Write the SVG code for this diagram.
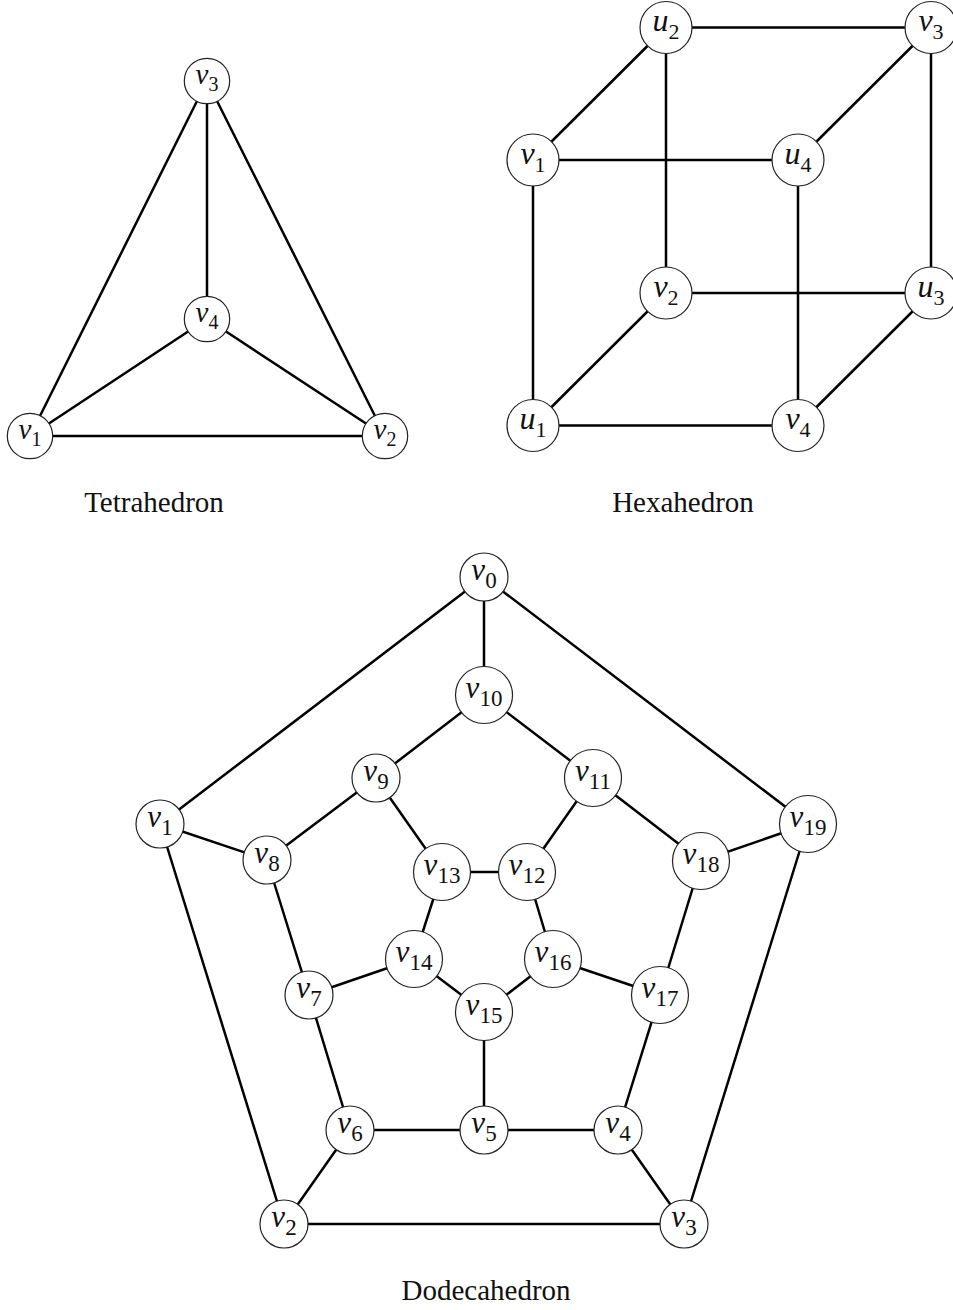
<svg xmlns="http://www.w3.org/2000/svg" width="953" height="1310" viewBox="0 0 953 1310">
<style>
  .e { stroke:#000; stroke-width:2.5; stroke-linecap:round; fill:none; }
  .n circle { fill:#fff; stroke:#222; stroke-width:1.2; }
  .n text { font-family:"Liberation Serif", "Times New Roman", serif; text-anchor:middle; fill:#111; }
  .t text { font-size:29px; }
  .t .s { font-size:20px; }
  .h text { font-size:32px; }
  .h .s { font-size:22px; }
  .d text { font-size:31px; }
  .d .s { font-size:23px; }
  .i { font-style:italic; }
  .cap { font-family:"Liberation Serif", "Times New Roman", serif; font-size:29px; text-anchor:middle; fill:#111; }
</style>
<rect width="953" height="1310" fill="#fff"/>

<!-- Tetrahedron -->
<g id="tetra-edges">
  <line class="e" x1="207" y1="81" x2="30" y2="436"/>
  <line class="e" x1="207" y1="81" x2="385" y2="436"/>
  <line class="e" x1="207" y1="81" x2="207" y2="319"/>
  <line class="e" x1="207" y1="319" x2="30" y2="436"/>
  <line class="e" x1="207" y1="319" x2="385" y2="436"/>
  <line class="e" x1="30" y1="436" x2="385" y2="436"/>
</g>
<g id="t-v3" class="n t"><circle cx="207" cy="81" r="22.7"/><text x="207" y="84"><tspan class="i">v</tspan><tspan class="s" dy="7">3</tspan></text></g>
<g id="t-v4" class="n t"><circle cx="207" cy="319" r="22.7"/><text x="207" y="322"><tspan class="i">v</tspan><tspan class="s" dy="7">4</tspan></text></g>
<g id="t-v1" class="n t"><circle cx="30" cy="436" r="22.7"/><text x="30" y="439"><tspan class="i">v</tspan><tspan class="s" dy="7">1</tspan></text></g>
<g id="t-v2" class="n t"><circle cx="385" cy="436" r="22.7"/><text x="385" y="439"><tspan class="i">v</tspan><tspan class="s" dy="7">2</tspan></text></g>
<text class="cap" x="154" y="512">Tetrahedron</text>

<!-- Hexahedron -->
<g id="hexa-edges">
  <line class="e" x1="666" y1="27.5" x2="931" y2="27.5"/>
  <line class="e" x1="666" y1="27.5" x2="533" y2="160"/>
  <line class="e" x1="666" y1="27.5" x2="666" y2="293"/>
  <line class="e" x1="931" y1="27.5" x2="798" y2="160"/>
  <line class="e" x1="931" y1="27.5" x2="931" y2="293"/>
  <line class="e" x1="533" y1="160" x2="798" y2="160"/>
  <line class="e" x1="533" y1="160" x2="533" y2="425.5"/>
  <line class="e" x1="798" y1="160" x2="798" y2="425.5"/>
  <line class="e" x1="666" y1="293" x2="931" y2="293"/>
  <line class="e" x1="666" y1="293" x2="533" y2="425.5"/>
  <line class="e" x1="931" y1="293" x2="798" y2="425.5"/>
  <line class="e" x1="533" y1="425.5" x2="798" y2="425.5"/>
</g>
<g id="h-u2" class="n h"><circle cx="666" cy="27.5" r="26"/><text x="666" y="31"><tspan class="i">u</tspan><tspan class="s" dy="8">2</tspan></text></g>
<g id="h-v3" class="n h"><circle cx="931" cy="27.5" r="26"/><text x="931" y="31"><tspan class="i">v</tspan><tspan class="s" dy="8">3</tspan></text></g>
<g id="h-v1" class="n h"><circle cx="533" cy="160" r="26"/><text x="533" y="163.5"><tspan class="i">v</tspan><tspan class="s" dy="8">1</tspan></text></g>
<g id="h-u4" class="n h"><circle cx="798" cy="160" r="26"/><text x="798" y="163.5"><tspan class="i">u</tspan><tspan class="s" dy="8">4</tspan></text></g>
<g id="h-v2" class="n h"><circle cx="666" cy="293" r="26"/><text x="666" y="296.5"><tspan class="i">v</tspan><tspan class="s" dy="8">2</tspan></text></g>
<g id="h-u3" class="n h"><circle cx="931" cy="293" r="26"/><text x="931" y="296.5"><tspan class="i">u</tspan><tspan class="s" dy="8">3</tspan></text></g>
<g id="h-u1" class="n h"><circle cx="533" cy="425.5" r="26"/><text x="533" y="429"><tspan class="i">u</tspan><tspan class="s" dy="8">1</tspan></text></g>
<g id="h-v4" class="n h"><circle cx="798" cy="425.5" r="26"/><text x="798" y="429"><tspan class="i">v</tspan><tspan class="s" dy="8">4</tspan></text></g>
<text class="cap" x="683" y="512">Hexahedron</text>

<!-- Dodecahedron -->
<g id="dodeca-edges">
  <line class="e" x1="484" y1="577" x2="160" y2="824"/>
  <line class="e" x1="484" y1="577" x2="484" y2="695"/>
  <line class="e" x1="484" y1="577" x2="808" y2="824"/>
  <line class="e" x1="160" y1="824" x2="267" y2="860"/>
  <line class="e" x1="160" y1="824" x2="284" y2="1224"/>
  <line class="e" x1="808" y1="824" x2="701" y2="861"/>
  <line class="e" x1="808" y1="824" x2="684" y2="1224"/>
  <line class="e" x1="484" y1="695" x2="376" y2="778"/>
  <line class="e" x1="484" y1="695" x2="593" y2="778"/>
  <line class="e" x1="376" y1="778" x2="267" y2="860"/>
  <line class="e" x1="376" y1="778" x2="442" y2="872"/>
  <line class="e" x1="593" y1="778" x2="527" y2="872"/>
  <line class="e" x1="593" y1="778" x2="701" y2="861"/>
  <line class="e" x1="442" y1="872" x2="527" y2="872"/>
  <line class="e" x1="442" y1="872" x2="414" y2="959"/>
  <line class="e" x1="527" y1="872" x2="553" y2="959"/>
  <line class="e" x1="267" y1="860" x2="309" y2="995"/>
  <line class="e" x1="701" y1="861" x2="660" y2="995"/>
  <line class="e" x1="414" y1="959" x2="309" y2="995"/>
  <line class="e" x1="414" y1="959" x2="484" y2="1012"/>
  <line class="e" x1="553" y1="959" x2="484" y2="1012"/>
  <line class="e" x1="553" y1="959" x2="660" y2="995"/>
  <line class="e" x1="484" y1="1012" x2="484" y2="1130"/>
  <line class="e" x1="309" y1="995" x2="350" y2="1130"/>
  <line class="e" x1="660" y1="995" x2="618" y2="1130"/>
  <line class="e" x1="350" y1="1130" x2="484" y2="1130"/>
  <line class="e" x1="350" y1="1130" x2="284" y2="1224"/>
  <line class="e" x1="484" y1="1130" x2="618" y2="1130"/>
  <line class="e" x1="618" y1="1130" x2="684" y2="1224"/>
  <line class="e" x1="284" y1="1224" x2="684" y2="1224"/>
</g>
<g id="d-v0" class="n d"><circle cx="484" cy="577" r="24"/><text x="484" y="580"><tspan class="i">v</tspan><tspan class="s" dy="7.5">0</tspan></text></g>
<g id="d-v10" class="n d"><circle cx="484" cy="695" r="28.5"/><text x="484" y="698"><tspan class="i">v</tspan><tspan class="s" dy="7.5">10</tspan></text></g>
<g id="d-v9" class="n d"><circle cx="376" cy="778" r="24"/><text x="376" y="781"><tspan class="i">v</tspan><tspan class="s" dy="7.5">9</tspan></text></g>
<g id="d-v11" class="n d"><circle cx="593" cy="778" r="28.5"/><text x="593" y="781"><tspan class="i">v</tspan><tspan class="s" dy="7.5">11</tspan></text></g>
<g id="d-v1" class="n d"><circle cx="160" cy="824" r="24"/><text x="160" y="827"><tspan class="i">v</tspan><tspan class="s" dy="7.5">1</tspan></text></g>
<g id="d-v19" class="n d"><circle cx="808" cy="824" r="28.5"/><text x="808" y="827"><tspan class="i">v</tspan><tspan class="s" dy="7.5">19</tspan></text></g>
<g id="d-v8" class="n d"><circle cx="267" cy="860" r="24"/><text x="267" y="863"><tspan class="i">v</tspan><tspan class="s" dy="7.5">8</tspan></text></g>
<g id="d-v18" class="n d"><circle cx="701" cy="861" r="28.5"/><text x="701" y="864"><tspan class="i">v</tspan><tspan class="s" dy="7.5">18</tspan></text></g>
<g id="d-v13" class="n d"><circle cx="442" cy="872" r="28.5"/><text x="442" y="875"><tspan class="i">v</tspan><tspan class="s" dy="7.5">13</tspan></text></g>
<g id="d-v12" class="n d"><circle cx="527" cy="872" r="28.5"/><text x="527" y="875"><tspan class="i">v</tspan><tspan class="s" dy="7.5">12</tspan></text></g>
<g id="d-v14" class="n d"><circle cx="414" cy="959" r="28.5"/><text x="414" y="962"><tspan class="i">v</tspan><tspan class="s" dy="7.5">14</tspan></text></g>
<g id="d-v16" class="n d"><circle cx="553" cy="959" r="28.5"/><text x="553" y="962"><tspan class="i">v</tspan><tspan class="s" dy="7.5">16</tspan></text></g>
<g id="d-v7" class="n d"><circle cx="309" cy="995" r="24"/><text x="309" y="998"><tspan class="i">v</tspan><tspan class="s" dy="7.5">7</tspan></text></g>
<g id="d-v17" class="n d"><circle cx="660" cy="995" r="28.5"/><text x="660" y="998"><tspan class="i">v</tspan><tspan class="s" dy="7.5">17</tspan></text></g>
<g id="d-v15" class="n d"><circle cx="484" cy="1012" r="28.5"/><text x="484" y="1015"><tspan class="i">v</tspan><tspan class="s" dy="7.5">15</tspan></text></g>
<g id="d-v6" class="n d"><circle cx="350" cy="1130" r="24"/><text x="350" y="1133"><tspan class="i">v</tspan><tspan class="s" dy="7.5">6</tspan></text></g>
<g id="d-v5" class="n d"><circle cx="484" cy="1130" r="24"/><text x="484" y="1133"><tspan class="i">v</tspan><tspan class="s" dy="7.5">5</tspan></text></g>
<g id="d-v4" class="n d"><circle cx="618" cy="1130" r="24"/><text x="618" y="1133"><tspan class="i">v</tspan><tspan class="s" dy="7.5">4</tspan></text></g>
<g id="d-v2" class="n d"><circle cx="284" cy="1224" r="24"/><text x="284" y="1227"><tspan class="i">v</tspan><tspan class="s" dy="7.5">2</tspan></text></g>
<g id="d-v3" class="n d"><circle cx="684" cy="1224" r="24"/><text x="684" y="1227"><tspan class="i">v</tspan><tspan class="s" dy="7.5">3</tspan></text></g>
<text class="cap" x="486" y="1300">Dodecahedron</text>
</svg>
